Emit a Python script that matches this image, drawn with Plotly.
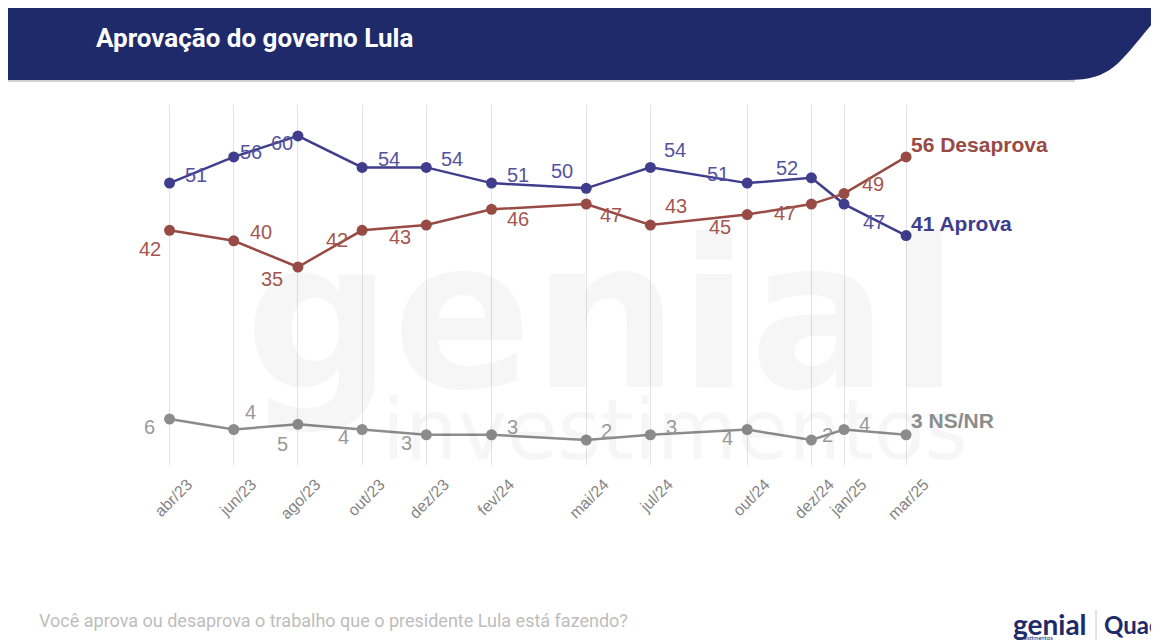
import plotly.graph_objects as go

# ---------------- data ----------------
months = ["2023-04-01", "2023-06-01", "2023-08-01", "2023-10-01", "2023-12-01", "2024-02-01",
          "2024-05-01", "2024-07-01", "2024-10-01", "2024-12-01", "2025-01-01", "2025-03-01"]
tick_labels = ["abr/23", "jun/23", "ago/23", "out/23", "dez/23", "fev/24",
               "mai/24", "jul/24", "out/24", "dez/24", "jan/25", "mar/25"]
aprova = [51, 56, 60, 54, 54, 51, 50, 54, 51, 52, 47, 41]
desaprova = [42, 40, 35, 42, 43, 46, 47, 43, 45, 47, 49, 56]
nsnr = [6, 4, 5, 4, 3, 3, 2, 3, 4, 2, 4, 3]
series_names = ["Aprova", "Desaprova", "NS/NR"]

title_text = "Aprovação do governo Lula"
footer_text = "Você aprova ou desaprova o trabalho que o presidente Lula está fazendo?"

# ---------------- styles ----------------
OFF = 8  # page body margin
W, H = 1159 - OFF, 641 - OFF
ML, MT = 130, 97
PW, PH = 928, 360
MR, MB = W - ML - PW, H - MT - PH

def px2x(px):
    return (px - OFF - ML) / PW

def px2y(py):
    return (H - MB - (py - OFF)) / PH

line_colors = ["#3f3d8c", "#984a45", "#8c8c8c"]
label_colors = ["#5553a0", "#a4564f", "#999999"]

# label offsets (dx, dy) in screen pixels for each point
off_aprova = [(26, -8), (17, -5), (-16, 7), (27, -8), (26, -8), (26, -8),
              (-24, -17), (25, -17), (-29, -9), (-24, -10), (30, 18), None]
off_desaprova = [(-20, 19), (27, -9), (-26, 12), (-25, 10), (-26, 12), (26, 10),
                 (25, 11), (26, -19), (-27, 12), (-26, 9), (29, -10), None]
off_nsnr = [(-20, 8), (17, -18), (-15, 20), (-19, 7), (-20, 8), (21, -8),
            (20, -9), (21, -8), (-20, 8), (16, -5), (20, -6), None]
end_shift = [12, 12, 14]

fig = go.Figure()

all_series = [aprova, desaprova, nsnr]
all_offsets = [off_aprova, off_desaprova, off_nsnr]

for vals, name, col in zip(all_series, series_names, line_colors):
    fig.add_trace(go.Scatter(
        x=months, y=vals, name=name, mode="lines+markers",
        line=dict(color=col, width=2.5),
        marker=dict(color=col, size=11),
        hoverinfo="x+y+name", showlegend=False,
    ))

annotations = []

# watermark (drawn first)
annotations.append(dict(
    x=px2x(602), y=px2y(316), xref="paper", yref="paper", text="<b>genial</b>",
    showarrow=False, xanchor="center", yanchor="middle",
    font=dict(family="DejaVu Sans", size=206, color="rgba(0,0,0,0.035)")))
annotations.append(dict(
    x=px2x(675), y=px2y(430), xref="paper", yref="paper", text="investimentos",
    showarrow=False, xanchor="center", yanchor="middle",
    font=dict(family="DejaVu Sans", size=83, color="rgba(0,0,0,0.035)")))

for vals, name, offs, lcol, ecol, es in zip(all_series, series_names, all_offsets,
                                             label_colors, line_colors, end_shift):
    for i, (m, v) in enumerate(zip(months, vals)):
        if offs[i] is None:
            annotations.append(dict(
                x=m, y=v, xref="x", yref="y", text=f"<b>{v} {name}</b>",
                showarrow=False, xanchor="left", yanchor="middle",
                xshift=3, yshift=es,
                font=dict(family="Liberation Sans, Arial", size=21, color=ecol)))
        else:
            dx, dy = offs[i]
            annotations.append(dict(
                x=m, y=v, xref="x", yref="y", text=str(v),
                showarrow=False, xanchor="center", yanchor="middle",
                xshift=dx, yshift=-dy,
                font=dict(family="Liberation Sans, Arial", size=20, color=lcol)))

# title
annotations.append(dict(
    x=px2x(94), y=px2y(38), xref="paper", yref="paper", text=f"<b>{title_text}</b>",
    showarrow=False, xanchor="left", yanchor="middle",
    font=dict(family="Roboto", size=26, color="white")))

# footer
annotations.append(dict(
    x=px2x(37), y=px2y(620), xref="paper", yref="paper", text=footer_text,
    showarrow=False, xanchor="left", yanchor="middle",
    font=dict(family="Roboto", size=18, color="#bdbdbd")))

# logo
annotations.append(dict(
    x=px2x(1011), y=px2y(624), xref="paper", yref="paper", text="<b>genial</b>",
    showarrow=False, xanchor="left", yanchor="middle",
    font=dict(family="Lato", size=28, color="#1f2a6a")))
annotations.append(dict(
    x=px2x(1014), y=px2y(637), xref="paper", yref="paper", text="investimentos",
    showarrow=False, xanchor="left", yanchor="middle",
    font=dict(family="Lato", size=6, color="#1f2a6a")))
annotations.append(dict(
    x=px2x(1102), y=px2y(624), xref="paper", yref="paper", text="<b>Quaes</b>",
    showarrow=False, xanchor="left", yanchor="middle",
    font=dict(family="Lato", size=24, color="#1f2a6a")))

def P(px, py):
    return f"{px2x(px):.5f},{px2y(py):.5f}"

header_path = (f"M {P(8, 8)} L {P(1159, 8)} L {P(1159, 16)} "
               f"C {P(1120, 60)} {P(1115, 80)} {P(1068, 80)} L {P(8, 80)} Z")

shapes = [
    dict(type="line", xref="paper", yref="paper",
         x0=px2x(8), x1=px2x(1075), y0=px2y(81), y1=px2y(81),
         line=dict(color="rgba(0,0,0,0.18)", width=2)),
    dict(type="path", xref="paper", yref="paper", path=header_path,
         fillcolor="#1f2a6a", line=dict(width=0), layer="above"),
    dict(type="line", xref="paper", yref="paper",
         x0=px2x(1096), x1=px2x(1096), y0=px2y(610), y1=px2y(640),
         line=dict(color="#c8c8c8", width=1)),
]

fig.update_layout(
    width=W, height=H, autosize=False,
    margin=dict(l=ML, r=MR, t=MT, b=MB, pad=0),
    paper_bgcolor="white", plot_bgcolor="white",
    showlegend=False,
    annotations=annotations,
    shapes=shapes,
    xaxis=dict(
        type="date", range=["2023-03-02", "2025-07-31"],
        tickvals=months, ticktext=tick_labels, tickangle=-45,
        tickfont=dict(family="Liberation Sans, Arial", size=16, color="#858585"),
        showgrid=True, gridcolor="#e3e3e3", gridwidth=1,
        zeroline=False, showline=False, ticks="",
        ticklabelshift=18, ticklabelstandoff=6,
    ),
    yaxis=dict(
        range=[-2.77, 65.9], visible=False, showgrid=False, zeroline=False,
    ),
)

fig.write_html("out.html")
